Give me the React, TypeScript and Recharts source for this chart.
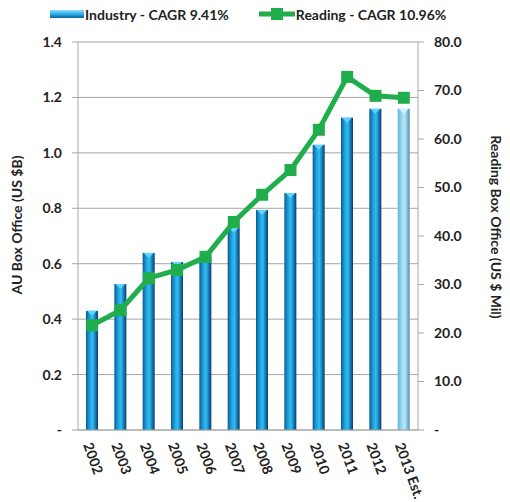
import { Bar, Cell, ComposedChart, CartesianGrid, Legend, Line, XAxis, YAxis } from 'recharts'

const years = ['2002', '2003', '2004', '2005', '2006', '2007', '2008', '2009', '2010', '2011', '2012', '2013 Est.']
const industry = [0.43, 0.527, 0.639, 0.606, 0.625, 0.73, 0.794, 0.855, 1.029, 1.127, 1.159, 1.159]
const reading = [21.6, 24.7, 31.3, 33.0, 35.7, 42.9, 48.5, 53.6, 61.9, 72.8, 68.9, 68.5]
const leftTicks = [0, 0.2, 0.4, 0.6, 0.8, 1.0, 1.2, 1.4]
const rightTicks = [0, 10, 20, 30, 40, 50, 60, 70, 80]

const FONT = 'Lato, "Open Sans", sans-serif'
const GREEN = '#1fae4b'
const GRID = '#a6a6a6'

const tickStyle = { fontSize: 14, fontWeight: 700, fill: '#222', fontFamily: FONT }

const fmt = (v: number) => (v === 0 ? '-' : v.toFixed(1))

const SquareDot = (props: any) => {
  const { cx, cy, index } = props
  if (cx == null || cy == null) return null
  return <rect key={`dot-${index}`} x={cx - 6} y={cy - 6} width={12} height={12} fill={GREEN} />
}

// cylinder-ish bar with a light cap at the top
const CylinderBar = (props: any) => {
  const { x, y, width, height, fill, index } = props
  if (!height || height <= 0) return null
  const light = index === years.length - 1
  const cx = x + width / 2
  return (
    <g>
      <rect x={x} y={y} width={width} height={height} fill={fill} />
      <path
        d={`M${x + 1},${y} L${x + width - 1},${y} L${cx},${y + 5} Z`}
        fill={light ? '#d4f1fb' : '#5fd3ff'}
      />
    </g>
  )
}

const YearTick = (props: any) => {
  const { x, y, payload } = props
  return (
    <text
      x={x - 4}
      y={y + 5}
      transform={`rotate(70, ${x - 4}, ${y + 5})`}
      textAnchor="start"
      dominantBaseline="central"
      style={tickStyle}
      fill="#222"
    >
      {payload.value}
    </text>
  )
}

const LegendContent = () => (
  <div
    style={{
      display: 'flex',
      alignItems: 'center',
      height: 24,
      paddingLeft: 50,
      fontFamily: FONT,
      fontWeight: 700,
      fontSize: 14,
      color: '#222',
    }}
  >
    <svg width={34} height={10} style={{ marginRight: 1 }}>
      <rect x={0} y={1} width={34} height={8} fill="url(#legendBar)" />
      <defs>
        <linearGradient id="legendBar" x1="0" y1="0" x2="0" y2="1">
          <stop offset="0%" stopColor="#8ee0ff" />
          <stop offset="50%" stopColor="#29aee8" />
          <stop offset="100%" stopColor="#0d5f99" />
        </linearGradient>
      </defs>
    </svg>
    <span>Industry - CAGR 9.41%</span>
    <svg width={36} height={14} style={{ marginLeft: 30, marginRight: 1 }}>
      <line x1={0} y1={7} x2={36} y2={7} stroke={GREEN} strokeWidth={5} />
      <rect x={12} y={1} width={12} height={12} fill={GREEN} />
    </svg>
    <span>Reading - CAGR 10.96%</span>
  </div>
)

const App = () => {
  const data = years.map((year, i) => ({ year, industry: industry[i], reading: reading[i] }))

  return (
    <div style={{ position: 'absolute', left: 0, top: 0, background: '#fff' }}>
      <ComposedChart
        width={510}
        height={502}
        data={data}
        margin={{ top: 18, right: 2, left: 5, bottom: 2 }}
        barCategoryGap={0}
      >
        <defs>
          <linearGradient id="barFill" x1="0" y1="0" x2="1" y2="0">
            <stop offset="0%" stopColor="#0b5a90" />
            <stop offset="30%" stopColor="#1c9fdc" />
            <stop offset="55%" stopColor="#33bdf2" />
            <stop offset="85%" stopColor="#0f6aa3" />
            <stop offset="100%" stopColor="#0a3a63" />
          </linearGradient>
          <linearGradient id="barLight" x1="0" y1="0" x2="1" y2="0">
            <stop offset="0%" stopColor="#5fb4d8" />
            <stop offset="35%" stopColor="#9ad9f3" />
            <stop offset="60%" stopColor="#b8e7f8" />
            <stop offset="100%" stopColor="#4f8fb0" />
          </linearGradient>
        </defs>
        <Legend verticalAlign="top" content={<LegendContent />} wrapperStyle={{ top: 2, left: 0, width: 510 }} />
        <CartesianGrid yAxisId="left" vertical={false} stroke={GRID} />
        <XAxis
          dataKey="year"
          interval={0}
          height={70}
          tickLine={false}
          axisLine={{ stroke: GRID }}
          tick={<YearTick />}
        />
        <YAxis
          yAxisId="left"
          domain={[0, 1.4]}
          ticks={leftTicks}
          tickFormatter={fmt}
          width={73}
          tick={tickStyle}
          tickSize={6}
          tickMargin={10}
          axisLine={{ stroke: GRID }}
          tickLine={{ stroke: GRID }}
          label={{
            value: 'AU Box Office (US $B)',
            angle: -90,
            position: 'center',
            dx: -24,
            dy: -11,
            style: { ...tickStyle, fontSize: 14 },
          }}
        />
        <YAxis
          yAxisId="right"
          orientation="right"
          domain={[0, 80]}
          ticks={rightTicks}
          tickFormatter={fmt}
          width={90}
          tick={tickStyle}
          tickSize={6}
          tickMargin={10}
          axisLine={{ stroke: GRID }}
          tickLine={{ stroke: GRID }}
          label={{
            value: 'Reading Box Office (US $ Mil)',
            angle: 90,
            position: 'center',
            dx: 33,
            dy: -9,
            style: { ...tickStyle, fontSize: 14 },
          }}
        />
        <Bar yAxisId="left" dataKey="industry" barSize={12} shape={<CylinderBar />} isAnimationActive={false}>
          {data.map((d, i) => (
            <Cell key={d.year} fill={i === data.length - 1 ? 'url(#barLight)' : 'url(#barFill)'} />
          ))}
        </Bar>
        <Line
          yAxisId="right"
          dataKey="reading"
          stroke={GREEN}
          strokeWidth={5}
          dot={<SquareDot />}
          activeDot={false}
          isAnimationActive={false}
        />
      </ComposedChart>
    </div>
  )
}

export default App
